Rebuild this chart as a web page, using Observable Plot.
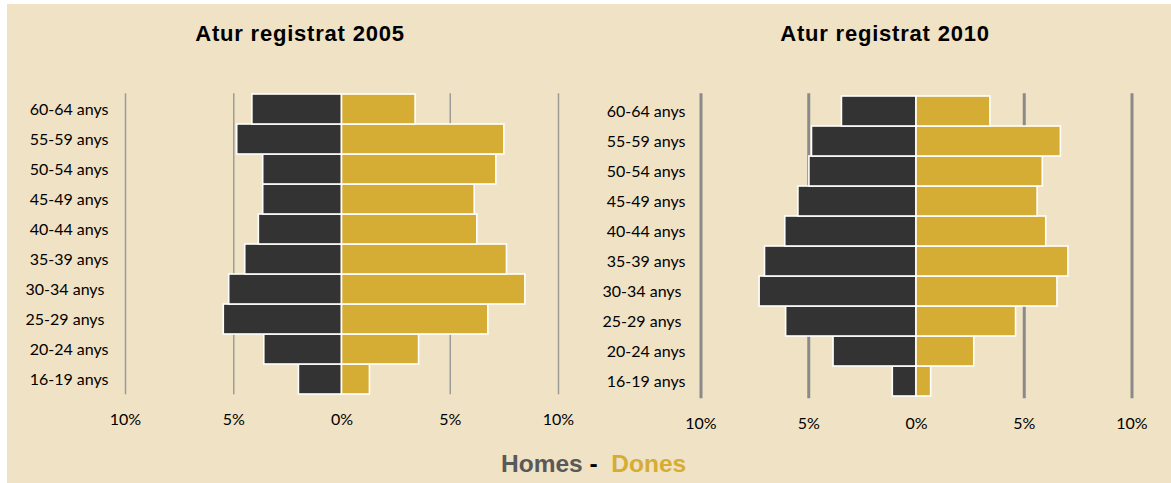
<!DOCTYPE html>
<html>
<head>
<meta charset="utf-8">
<script src="https://cdn.jsdelivr.net/npm/d3@7"></script>
<script src="https://cdn.jsdelivr.net/npm/@observablehq/plot@0.6"></script>
<style>
  html, body { margin: 0; padding: 0; background: #ffffff; }
  #root { position: relative; width: 1171px; height: 483px; overflow: hidden; background: #ffffff; }
  #bg { position: absolute; left: 7px; top: 4px; width: 1164px; height: 479px; background: #f0e2c4; }
  .title { position: absolute; top: 23px; width: 400px; text-align: center; font-family: "Liberation Sans", Arial, sans-serif; font-weight: bold; font-size: 22px; letter-spacing: 0.8px; line-height: 22px; color: #000; white-space: nowrap; }
  .panel { position: absolute; }
  #legend { position: absolute; left: 501px; top: 452px; font-family: "Liberation Sans", Arial, sans-serif; font-weight: bold; font-size: 24.5px; line-height: 24.5px; white-space: pre; }
</style>
</head>
<body>
<div id="root">
  <div id="bg"></div>
  <div class="title" id="t1" style="left:100px"></div>
  <div class="title" id="t2" style="left:685px"></div>
  <div class="panel" id="p1" style="left:0px; top:60px; width:585px; height:380px"></div>
  <div class="panel" id="p2" style="left:585px; top:60px; width:586px; height:380px"></div>
  <div id="legend"></div>
</div>
<script>
// ---- data (bottom to top) ----
const ageGroups = ["16-19 anys","20-24 anys","25-29 anys","30-34 anys","35-39 anys","40-44 anys","45-49 anys","50-54 anys","55-59 anys","60-64 anys"];
const men2005   = [1.99, 3.59, 5.46, 5.21, 4.47, 3.84, 3.64, 3.64, 4.84, 4.14];
const women2005 = [1.29, 3.56, 6.76, 8.47, 7.62, 6.25, 6.13, 7.13, 7.50, 3.40];
const men2010   = [1.10, 3.85, 6.05, 7.28, 7.03, 6.09, 5.48, 4.97, 4.85, 3.46];
const women2010 = [0.68, 2.68, 4.62, 6.54, 7.05, 6.02, 5.62, 5.86, 6.70, 3.43];
const xTicks = [-10, -5, 0, 5, 10];
const gridTicks = [-10, -5, 5, 10];
const titles = ["Atur registrat 2005", "Atur registrat 2010"];
const legendLabels = ["Homes", "Dones"];

const menColor = "#333333";
const womenColor = "#d5ad35";
const paddedLabels = new Set(["30-34 anys", "25-29 anys"]);

function pyramid(men, women, o) {
  const rows = ageGroups.map((a, i) => ({age: a, men: -men[i], women: women[i]}));
  return Plot.plot({
    width: o.width, height: 380,
    marginLeft: o.ml, marginRight: o.mr, marginTop: o.mt, marginBottom: o.mb,
    style: {background: "transparent", fontFamily: "Lato, 'Open Sans', sans-serif", fontSize: "16px", color: "#000", overflow: "visible"},
    x: {domain: [-10, 10], ticks: xTicks, tickFormat: d => Math.abs(d) + "%", tickSize: 0, tickPadding: o.xpad, label: null},
    y: {domain: ageGroups.slice().reverse(), padding: 0, tickSize: 0, tickPadding: o.ypad, label: null,
        tickFormat: d => paddedLabels.has(d) ? d + "\u00a0" : d},
    marks: [
      Plot.ruleX(gridTicks, {stroke: o.gridColor, strokeWidth: o.gridWidth}),
      Plot.barX(rows, {x1: d => 0, x2: "men", y: "age", fill: menColor, stroke: "#ffffff", strokeWidth: 1.6}),
      Plot.barX(rows, {x1: d => 0, x2: "women", y: "age", fill: womenColor, stroke: "#ffffff", strokeWidth: 1.6})
    ]
  });
}

document.getElementById("t1").textContent = titles[0];
document.getElementById("t2").textContent = titles[1];

document.getElementById("p1").appendChild(pyramid(men2005, women2005, {
  width: 585, ml: 125, mr: 27, mt: 33.3, mb: 45.7, xpad: 18.6, ypad: 17, gridColor: "#9c9c98", gridWidth: 1.5
}));
document.getElementById("p2").appendChild(pyramid(men2010, women2010, {
  width: 586, ml: 115.5, mr: 39.5, mt: 33.3, mb: 41.7, xpad: 19.3, ypad: 15.5, gridColor: "#8a8a8a", gridWidth: 3
}));

const lg = document.getElementById("legend");
const s1 = document.createElement("span"); s1.style.color = "#595959"; s1.textContent = legendLabels[0];
const s2 = document.createElement("span"); s2.style.color = "#000000"; s2.textContent = " - ";
const s3 = document.createElement("span"); s3.style.color = "#d5ad35"; s3.textContent = "\u00a0" + legendLabels[1];
lg.append(s1, s2, s3);
</script>
</body>
</html>
